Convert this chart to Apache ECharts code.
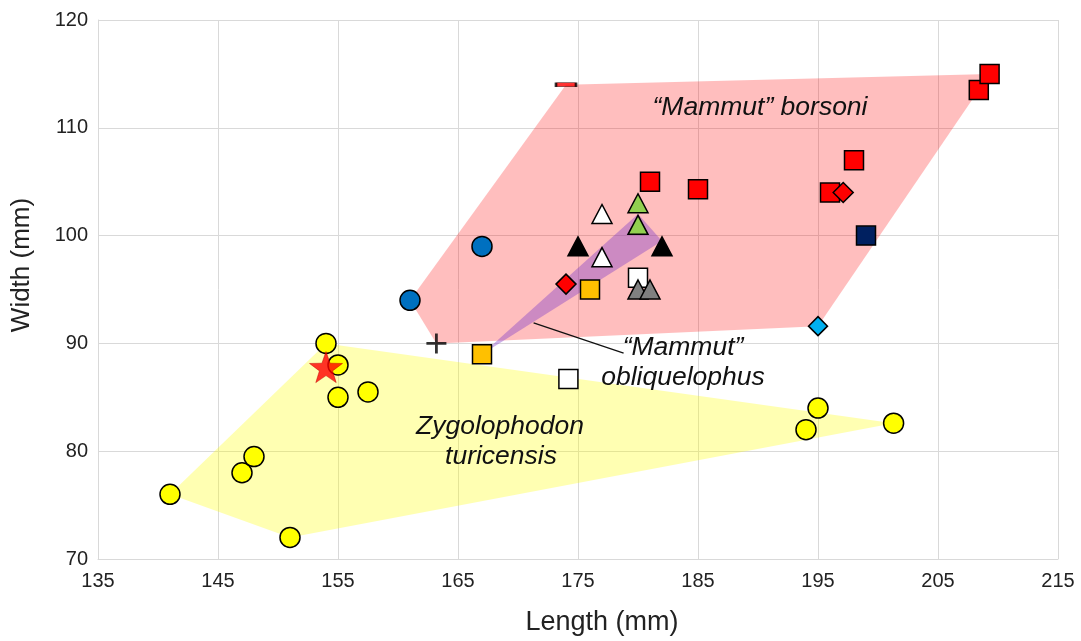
<!DOCTYPE html>
<html><head><meta charset="utf-8">
<script src="https://cdn.jsdelivr.net/npm/echarts@6/dist/echarts.min.js"></script>
<style>html,body{margin:0;padding:0;background:#fff}#c{width:1081px;height:641px}</style>
</head><body><div id="c"></div><script>
// ---- data (Length mm, Width mm) ----
const xMin = 135, xMax = 215, xStep = 10;
const yMin = 70, yMax = 120, yStep = 10;

const borsoniHull = [[174,114],[209.3,115],[208.4,113.5],[195,91.6],[163.2,90],[161,94]];
const obliquelophusHull = [[167,89],[180,102],[182,99.5]];
const turicensisHull = [[141,76],[154,90],[201.3,82.6],[151,72]];
const leaderLine = [[171.3,91.9],[178.8,89.1]];

const redSquares = [[181,105],[185,104.3],[196,104],[198,107],[208.4,113.5],[209.3,115]];
const redDash = [[174,114]];
const redDiamonds = [[174,95.5],[197.1,104]];
const navySquares = [[199,100]];
const cyanDiamonds = [[195,91.6]];
const blueCircles = [[161,94],[167,99]];
const openSquares = [[174.2,86.7],[180,96.1]];
const orangeSquares = [[167,89],[176,95]];
const greenTriangles = [[180,101],[180,103]];
const openTriangles = [[177,98],[177,102]];
const blackTriangles = [[175,99],[182,99]];
const grayTriangles = [[180,95],[181,95]];
const plusPoints = [[163.2,90]];
const yellowCircles = [[141,76],[147,78],[148,79.5],[151,72],[154,90],[155,88],[155,85],[157.5,85.5],[194,82],[195,84],[201.3,82.6]];
const starPoints = [[154,87.8]];

const FONT = 'Liberation Sans, Arial, sans-serif';
const chart = echarts.init(document.getElementById('c'), null, {renderer:'canvas'});

function hull(points, fill){
  return {
    type:'custom', silent:true, clip:false, z:1,
    data:[[points[0][0], points[0][1]]],
    renderItem:function(params, api){
      if (params.dataIndex !== 0) return null;
      const pts = points.map(p => api.coord(p));
      return {type:'polygon', shape:{points:pts}, style:{fill:fill, stroke:'none'}};
    }
  };
}
function scat(data, symbol, size, color, extra){
  return Object.assign({
    type:'scatter', data:data, symbol:symbol, symbolSize:size, z:5,
    itemStyle:{color:color, borderColor:'#000', borderWidth:1.5, opacity:1},
    emphasis:{disabled:true}, animation:false
  }, extra||{});
}
const starPath = 'path://M0,-10 L2.35,-3.24 L9.51,-3.09 L3.8,1.24 L5.88,8.09 L0,4 L-5.88,8.09 L-3.8,1.24 L-9.51,-3.09 L-2.35,-3.24 Z';
const plusPath = 'path://M8.6,0h2.8v8.6h8.6v2.8h-8.6v8.6h-2.8v-8.6h-8.6v-2.8h8.6z';

const option = {
  animation:false,
  backgroundColor:'#fff',
  grid:{left:98, right:23, top:20, bottom:82, containLabel:false},
  xAxis:{type:'value', min:xMin, max:xMax, interval:xStep,
    axisLine:{show:true, lineStyle:{color:'#d9d9d9', width:1}},
    axisTick:{show:false},
    axisLabel:{fontSize:20, color:'#222', fontFamily:FONT, margin:12},
    splitLine:{show:true, lineStyle:{color:'#d9d9d9', width:1}}},
  yAxis:{type:'value', min:yMin, max:yMax, interval:yStep,
    axisLine:{show:true, lineStyle:{color:'#d9d9d9', width:1}},
    axisTick:{show:false},
    axisLabel:{fontSize:20, color:'#222', fontFamily:FONT, margin:10},
    splitLine:{show:true, lineStyle:{color:'#d9d9d9', width:1}}},
  series:[
    hull(borsoniHull, 'rgba(255,0,0,0.255)'),
    hull(turicensisHull, 'rgba(255,255,0,0.3)'),
    hull(obliquelophusHull, 'rgba(128,60,200,0.4)'),
    {type:'line', data:leaderLine, symbol:'none', z:3, silent:true,
      lineStyle:{color:'#111', width:1.3}},
    scat(yellowCircles, 'circle', 20, '#ffff00'),
    scat(starPoints, starPath, [33,31], '#ff0000', {itemStyle:{color:'#ff0000', borderColor:'#c00000', borderWidth:0.6}}),
    scat(blueCircles, 'circle', 20, '#0070c0'),
    scat(plusPoints, plusPath, 20, '#000', {itemStyle:{color:'#000', borderWidth:0}}),
    scat(redSquares, 'rect', 19, '#ff0000'),
    scat(redDash, 'rect', [20,4], '#ff0000', {itemStyle:{color:'#ff0000', borderColor:'#000', borderWidth:1.2}}),
    scat(redDiamonds, 'diamond', 20, '#ff0000'),
    scat(navySquares, 'rect', 19, '#002060'),
    scat(cyanDiamonds, 'diamond', 19, '#00b0f0'),
    scat(openSquares, 'rect', 19, '#ffffff'),
    scat(orangeSquares, 'rect', 19, '#ffc000'),
    scat(greenTriangles, 'triangle', [20,19], '#92d050'),
    scat(openTriangles, 'triangle', [20,19], '#ffffff'),
    scat(blackTriangles, 'triangle', [20,19], '#000000'),
    scat(grayTriangles, 'triangle', [20,19], '#808080')
  ],
  graphic:[
    {type:'text', x:760, y:108, z:10, style:{text:'\u201cMammut\u201d borsoni', font:'italic 26.5px '+FONT, fill:'#111', align:'center', verticalAlign:'middle'}},
    {type:'text', x:683, y:348, z:10, style:{text:'\u201cMammut\u201d', font:'italic 26.5px '+FONT, fill:'#111', align:'center', verticalAlign:'middle'}},
    {type:'text', x:683, y:378, z:10, style:{text:'obliquelophus', font:'italic 26.5px '+FONT, fill:'#111', align:'center', verticalAlign:'middle'}},
    {type:'text', x:500, y:427, z:10, style:{text:'Zygolophodon', font:'italic 26.5px '+FONT, fill:'#111', align:'center', verticalAlign:'middle'}},
    {type:'text', x:501, y:457, z:10, style:{text:'turicensis', font:'italic 26.5px '+FONT, fill:'#111', align:'center', verticalAlign:'middle'}},
    {type:'text', x:602, y:623, z:10, style:{text:'Length (mm)', font:'27px '+FONT, fill:'#222', align:'center', verticalAlign:'middle'}},
    {type:'text', x:22, y:265, rotation:Math.PI/2, z:10, style:{text:'Width (mm)', font:'26px '+FONT, fill:'#222', align:'center', verticalAlign:'middle'}}
  ]
};
chart.setOption(option);
</script></body></html>
